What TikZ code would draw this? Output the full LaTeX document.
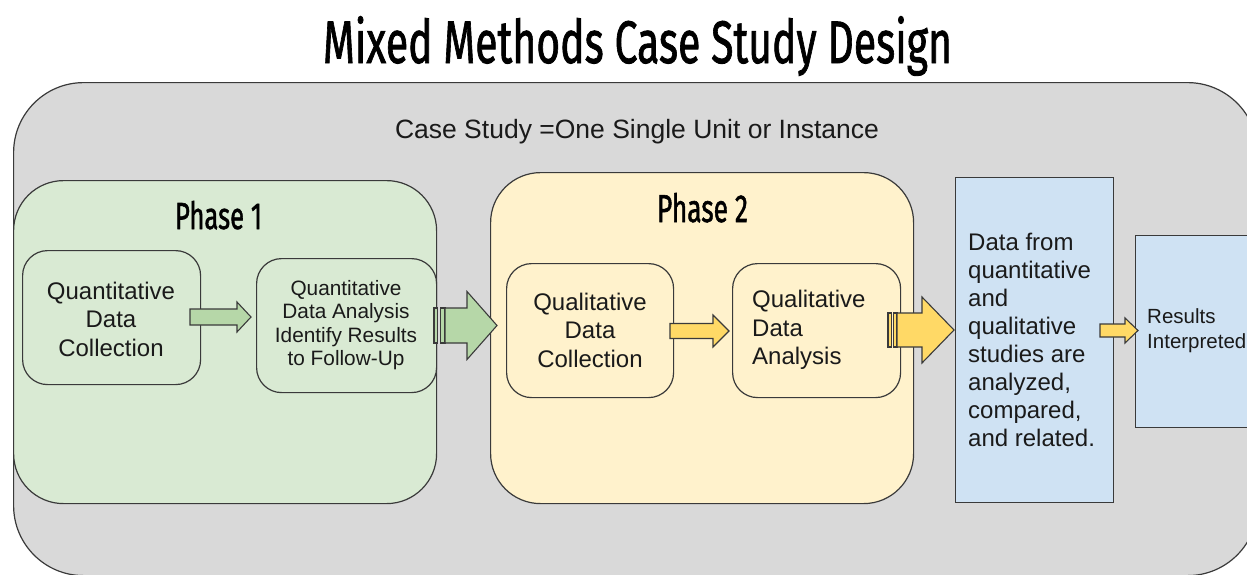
\documentclass[tikz,border=0pt]{standalone}
\usepackage{fontspec}
\setmainfont{Liberation Sans}
\newfontfamily\titlefont[FakeBold=1.5]{Fira Sans}
\usetikzlibrary{positioning}
\definecolor{casegray}{HTML}{D9D9D9}
\definecolor{phgreen}{HTML}{D9EAD3}
\definecolor{phyellow}{HTML}{FFF2CC}
\definecolor{resblue}{HTML}{CFE2F3}
\definecolor{argreen}{HTML}{B6D7A8}
\definecolor{aryellow}{HTML}{FFD966}
\definecolor{outline}{HTML}{3A3A3A}
\definecolor{txt}{HTML}{1A1A1A}
\newcommand\blockarrow[7]{%
  \draw[arrowline, fill=#1] (#2,#5-#6) -- (#3,#5-#6) -- (#3,#5-#7) -- (#4,#5)
    -- (#3,#5+#7) -- (#3,#5+#6) -- (#2,#5+#6) -- cycle;}
\tikzset{
  box/.style={draw=outline, line width=1.2pt, inner sep=0pt},
  arrowline/.style={draw=outline, line width=1.1pt, line join=miter},
  bodytext/.style={text=txt, inner sep=0pt, font=\fontsize{24}{28.5}\selectfont},
  smalltext/.style={text=txt, inner sep=0pt, font=\fontsize{20.8}{23.5}\selectfont},
}
\begin{document}
\begin{tikzpicture}[x=1pt,y=-1pt]
\useasboundingbox (0,0) rectangle (1247,574);
\clip (0,0) rectangle (1247,574);
% title
\node[anchor=base, text=black, inner sep=0pt] (title) at (637.5,63)
  {\resizebox{629pt}{\height}{\titlefont\fontsize{60}{60}\selectfont Mixed Methods Case Study Design}};
% outer case box
\node[box, fill=casegray, rounded corners=70pt, minimum width=1244pt, minimum height=493pt, anchor=north west] (case) at (13,82) {};
\node[bodytext, font=\fontsize{26.5}{30}\selectfont] (caselabel) at (637,132) {Case Study =One Single Unit or Instance};
% phase 1
\node[box, fill=phgreen, rounded corners=50pt, minimum width=423pt, minimum height=323pt, anchor=north west] (ph1) at (13,180) {};
\node[anchor=base, text=black, inner sep=0pt] (ph1label) at (218.5,229)
  {\resizebox{87pt}{\height}{\titlefont\fontsize{37.7}{38}\selectfont Phase 1}};
\node[box, fill=phgreen, rounded corners=25pt, minimum width=178pt, minimum height=134pt, anchor=north west] (qdc) at (22,250) {};
\node[bodytext, align=center] (qdctext) at (111,319) {Quantitative\\Data\\Collection};
\node[box, fill=phgreen, rounded corners=25pt, minimum width=180pt, minimum height=134pt, anchor=north west] (qda) at (256,258) {};
\node[smalltext, align=center] (qdatext) at (346,325) {Quantitative\\Data Analysis\\Identify Results\\to Follow-Up};
% phase 2
\node[box, fill=phyellow, rounded corners=50pt, minimum width=423pt, minimum height=331pt, anchor=north west] (ph2) at (490,172) {};
\node[anchor=base, text=black, inner sep=0pt] (ph2label) at (702.5,222)
  {\resizebox{91pt}{\height}{\titlefont\fontsize{39}{39}\selectfont Phase 2}};
\node[box, fill=phyellow, rounded corners=25pt, minimum width=167pt, minimum height=134pt, anchor=north west] (qlc) at (506,263) {};
\node[bodytext, align=center] (qlctext) at (590,330) {Qualitative\\Data\\Collection};
\node[box, fill=phyellow, rounded corners=25pt, minimum width=168pt, minimum height=134pt, anchor=north west] (qla) at (732,263) {};
\node[bodytext, align=left, anchor=west] (qlatext) at (752,330) {Qualitative\\Data\\Analysis};
% results boxes
\node[box, fill=resblue, minimum width=158pt, minimum height=325pt, anchor=north west] (merge) at (955,177) {};
\node[bodytext, align=left, anchor=west, font=\fontsize{24}{28}\selectfont] (mergetext) at (968,340)
  {Data from\\quantitative\\and\\qualitative\\studies are\\analyzed,\\compared,\\and related.};
\node[box, fill=resblue, minimum width=130pt, minimum height=192pt, anchor=north west] (interp) at (1135,235) {};
% arrows
\blockarrow{argreen}{190}{237}{251}{317}{8}{15}
\draw[arrowline, fill=argreen] (434,308) rectangle (437.5,343);
\draw[arrowline, fill=argreen] (440.5,308) rectangle (445,343);
\blockarrow{argreen}{445}{467}{497}{325.5}{17.5}{34}
\blockarrow{aryellow}{670}{713}{729}{331}{7.5}{16}
\draw[arrowline, fill=aryellow] (888,313) rectangle (891.5,347);
\draw[arrowline, fill=aryellow] (893.5,313) rectangle (897,347);
\blockarrow{aryellow}{897}{922}{954}{330}{17}{33}
\blockarrow{aryellow}{1100}{1125}{1138}{330.5}{6.5}{12.5}
\node[smalltext, align=left, anchor=west, font=\fontsize{20.5}{25}\selectfont] (interptext) at (1147,331) {Results\\Interpreted};
\end{tikzpicture}
\end{document}
